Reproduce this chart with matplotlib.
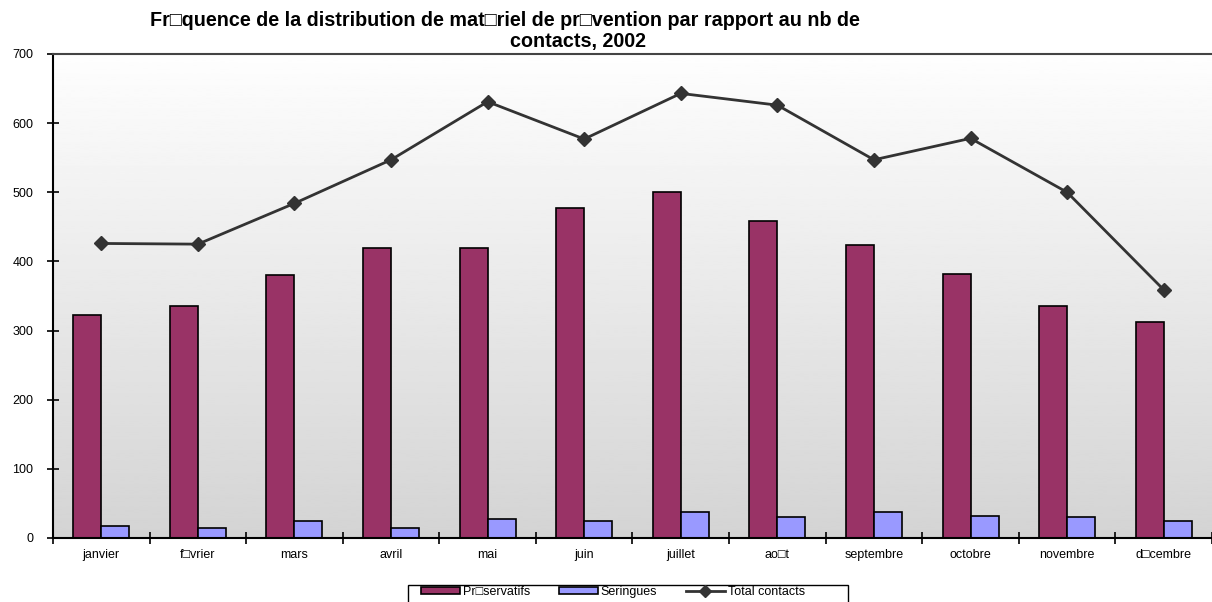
import matplotlib
matplotlib.use("Agg")
import matplotlib.pyplot as plt
from matplotlib.patches import Rectangle
import numpy as np

plt.rcParams['font.family'] = ['Liberation Sans', 'DejaVu Sans']

months = ["janvier", "f\u25a1vrier", "mars", "avril", "mai", "juin", "juillet",
          "ao\u25a1t", "septembre", "octobre", "novembre", "d\u25a1cembre"]
preservatifs = [323, 336, 380, 419, 419, 477, 500, 459, 424, 382, 336, 312]
seringues = [17, 15, 24, 15, 27, 24, 38, 30, 38, 32, 30, 24]
total_contacts = [426, 425, 484, 547, 631, 577, 643, 626, 547, 578, 500, 359]
yticks = [0, 100, 200, 300, 400, 500, 600, 700]

W, H = 1212, 602
fig = plt.figure(figsize=(W / 100, H / 100), dpi=100)
ax = fig.add_axes([53 / W, 1 - 538 / H, 1 - 53 / W, (538 - 54) / H])

# gradient background
grad = np.linspace(0.83, 0.995, 256).reshape(-1, 1)
ax.imshow(grad, cmap='gray', vmin=0, vmax=1, aspect='auto', origin='lower',
          extent=[0, 1, 0, 1], transform=ax.transAxes, zorder=0)

x = np.arange(len(months))
bw = 0.29
b1 = ax.bar(x - bw / 2, preservatifs, bw, color='#993366', edgecolor='black',
            linewidth=1.2, zorder=2, label='Pr\u25a1servatifs')
b2 = ax.bar(x + bw / 2, seringues, bw, color='#9999FF', edgecolor='black',
            linewidth=1.2, zorder=2, label='Seringues')
l1, = ax.plot(x, total_contacts, color='#333333', linewidth=2, marker='D',
              markersize=7, zorder=3, label='Total contacts')

ax.set_xlim(-0.5, len(months) - 0.5)
ax.set_ylim(0, 700)
ax.set_yticks(yticks)
ax.set_yticklabels([str(v) for v in yticks], fontsize=9)
ax.set_xticks(x)
ax.set_xticklabels(months, fontsize=9)
ax.set_xticks(np.arange(-0.5, len(months), 1.0), minor=True)
ax.tick_params(axis='x', which='major', length=0, pad=8)
ax.tick_params(axis='x', which='minor', length=8, direction='inout', width=1.2)
ax.tick_params(axis='y', which='major', length=8, direction='inout', width=1.2, pad=10)

for s in ['left', 'bottom']:
    ax.spines[s].set_linewidth(1.5)
    ax.spines[s].set_color('black')
ax.spines['top'].set_color('#444444')
ax.spines['top'].set_linewidth(1.5)
ax.spines['right'].set_visible(False)

fig.text(505 / W, 1 - 20 / H,
         "Fr\u25a1quence de la distribution de mat\u25a1riel de pr\u25a1vention par rapport au nb de",
         ha='center', va='center', fontsize=14.2, fontweight='bold')
fig.text(578 / W, 1 - 42 / H, "contacts, 2002",
         ha='center', va='center', fontsize=14.2, fontweight='bold')

# legend frame running off the bottom edge, as in the reference
fig.patches.append(Rectangle((408 / W, -0.02), (848 - 408) / W, 0.02 + (602 - 585) / H,
                             transform=fig.transFigure, facecolor='white',
                             edgecolor='black', linewidth=1.0, zorder=1))
leg = fig.legend([b1, b2, l1], [b1.get_label(), b2.get_label(), l1.get_label()],
                 loc='center left', bbox_to_anchor=(421 / W, 1 - 592 / H), ncol=3,
                 fontsize=9, frameon=False, handlelength=3.1, handleheight=0.5,
                 columnspacing=2.3, borderpad=0.0, handletextpad=0.25,
                 numpoints=1, borderaxespad=0, markerscale=0.85)
leg.set_zorder(2)

fig.savefig("out.png", dpi=100)
